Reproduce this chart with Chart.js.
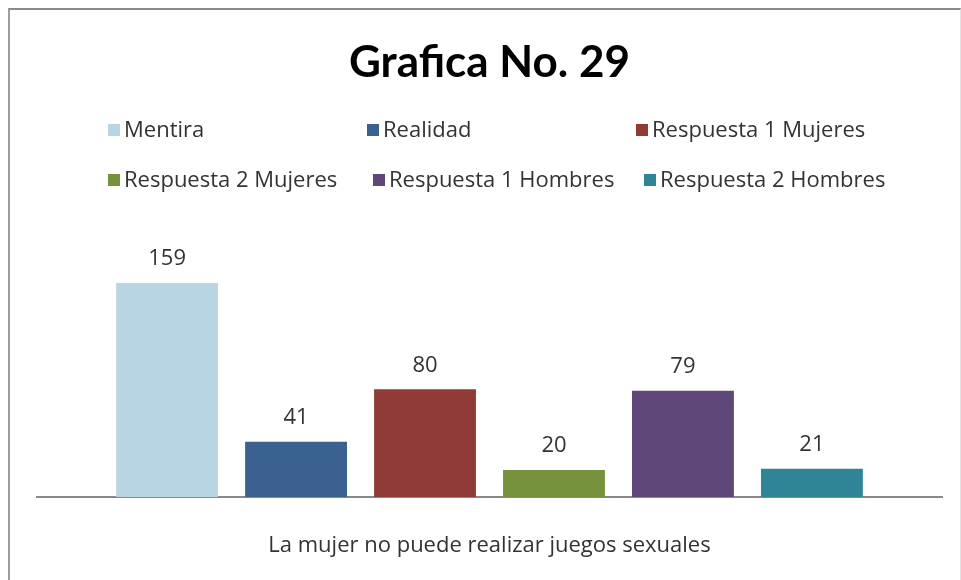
<!DOCTYPE html>
<html>
<head>
<meta charset="utf-8">
<script src="https://cdn.jsdelivr.net/npm/chart.js@4/dist/chart.umd.min.js"></script>
<style>
  html, body { margin: 0; padding: 0; background: #fff; }
  #wrap { position: relative; width: 961px; height: 580px; }
  #frame {
    position: absolute; left: 8px; top: 8px; width: 950px; height: 580px;
    border-top: 2px solid #8a8a8a; border-left: 2px solid #9c9c9c; border-right: 1px solid #e2e2e2;
    pointer-events: none;
  }
</style>
</head>
<body>
<div id="wrap">
  <canvas id="chart" width="961" height="580"></canvas>
  <div id="frame"></div>
</div>
<script>
/* ---------- data ---------- */
const categories = ['La mujer no puede realizar juegos sexuales'];
const seriesNames  = ['Mentira', 'Realidad', 'Respuesta 1 Mujeres', 'Respuesta 2 Mujeres', 'Respuesta 1 Hombres', 'Respuesta 2 Hombres'];
const seriesValues = [159, 41, 80, 20, 79, 21];
const seriesColors = ['#b7d5e3', '#3a6190', '#913b37', '#76923c', '#5f4879', '#2f8597'];

const FONT = '"Open Sans", sans-serif';

/* ---------- plugins ---------- */
// value labels above each bar
const valueLabels = {
  id: 'valueLabels',
  afterDatasetsDraw(chart) {
    const { ctx } = chart;
    ctx.save();
    ctx.font = '22px ' + FONT;
    ctx.fillStyle = '#333';
    ctx.textAlign = 'center';
    ctx.textBaseline = 'middle';
    chart.data.datasets.forEach((ds, i) => {
      chart.getDatasetMeta(i).data.forEach((bar, j) => {
        ctx.fillText(ds.data[j], bar.x, bar.y - 24);
      });
    });
    ctx.restore();
  }
};

// excel-like legend: 3 columns, 2 rows
const gridLegend = {
  id: 'gridLegend',
  afterDraw(chart) {
    const { ctx } = chart;
    const cols = [[108, 367, 636], [108, 373, 644]];
    const rows = [130, 180];
    ctx.save();
    ctx.font = '22px ' + FONT;
    ctx.textBaseline = 'middle';
    chart.data.datasets.forEach((ds, i) => {
      const r = Math.floor(i / 3), c = i % 3;
      const x = cols[r][c], y = rows[r];
      ctx.fillStyle = ds.backgroundColor;
      ctx.fillRect(x, y - 6, 12, 12);
      ctx.fillStyle = '#333';
      ctx.fillText(ds.label, x + 16, y + 1);
    });
    ctx.restore();
  }
};

/* ---------- chart ---------- */
new Chart(document.getElementById('chart'), {
  type: 'bar',
  data: {
    labels: categories,
    datasets: seriesNames.map((name, i) => ({
      label: name,
      data: [seriesValues[i]],
      backgroundColor: seriesColors[i],
      borderWidth: 0,
      categoryPercentage: 0.855,
      barPercentage: 0.79
    }))
  },
  options: {
    responsive: false,
    animation: false,
    layout: { padding: { left: 37, right: 19, top: 0, bottom: 23 } },
    plugins: {
      legend: { display: false },
      tooltip: { enabled: false },
      title: {
        display: true,
        text: 'Grafica No. 29',
        color: '#000',
        font: { family: 'Lato, sans-serif', size: 44, weight: 'bold' },
        padding: { top: 36, bottom: 166 }
      }
    },
    scales: {
      x: {
        grid: { display: false, drawTicks: false },
        border: { color: '#888', width: 2 },
        ticks: { color: '#333', font: { family: FONT, size: 22 }, padding: 36 },
        afterFit: s => { s.height = 60; }
      },
      y: { display: false, min: 0, max: 180 }
    }
  },
  plugins: [valueLabels, gridLegend]
});
</script>
</body>
</html>
